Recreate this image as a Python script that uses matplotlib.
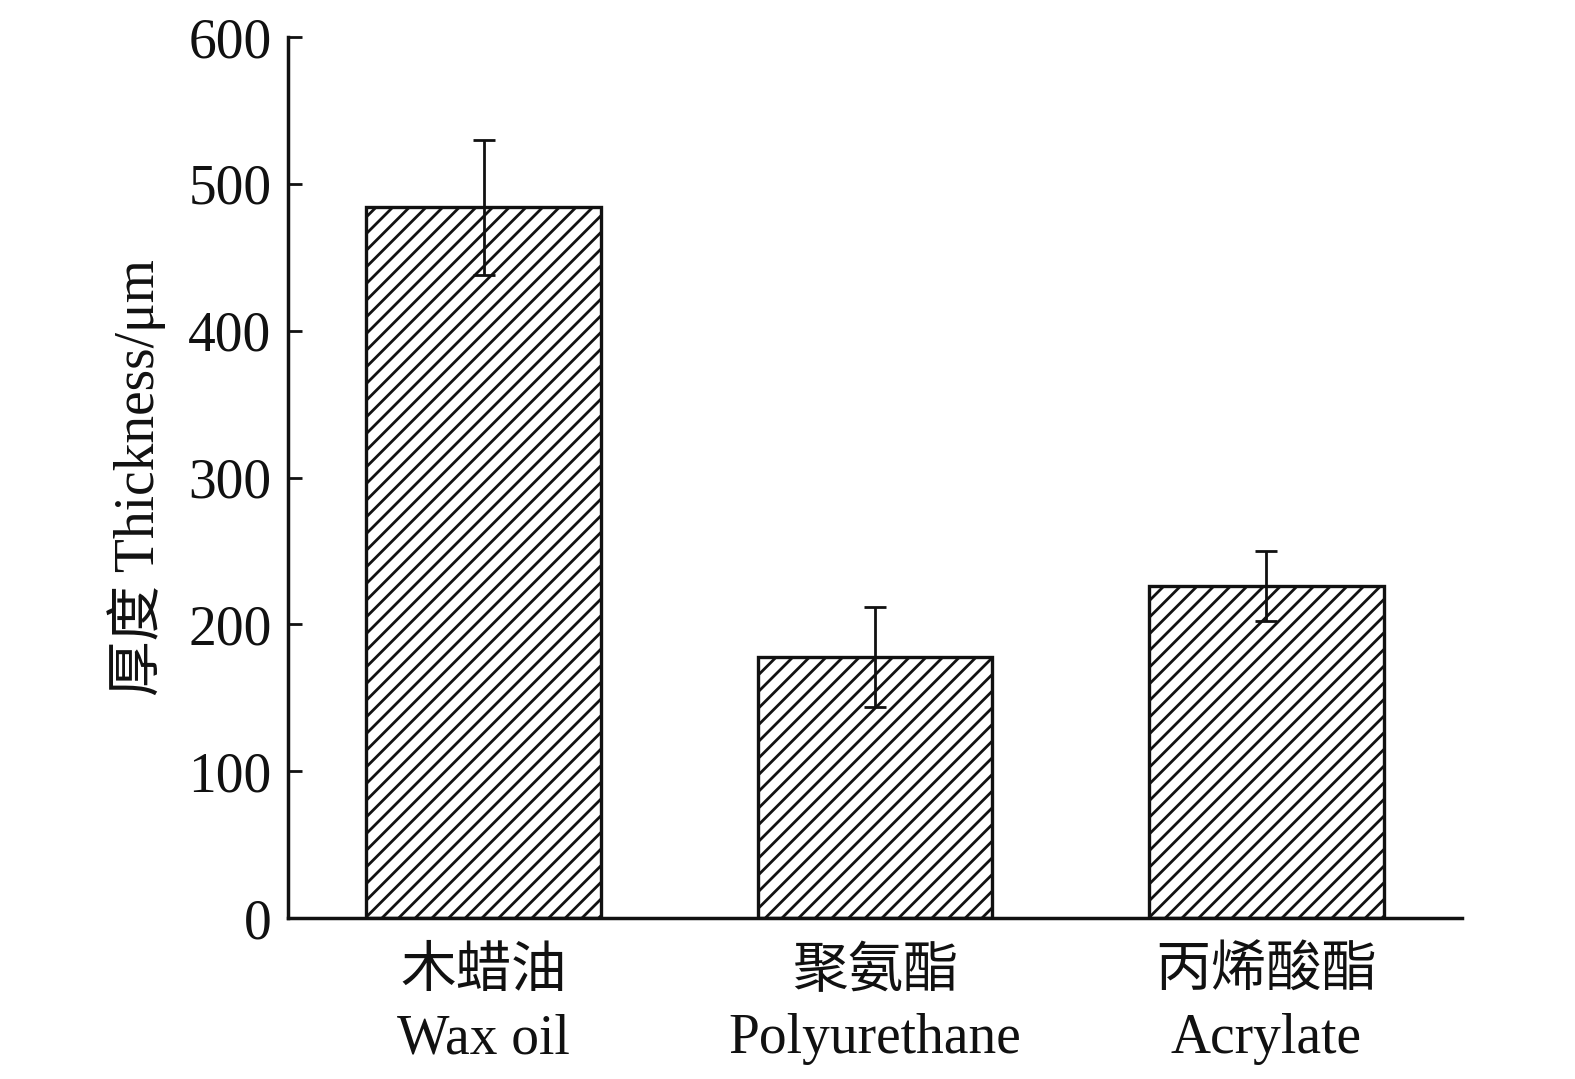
import numpy as np
import matplotlib.pyplot as plt

categories_cn = ["木蜡油", "聚氨酯", "丙烯酸酯"]
categories_en = ["Wax oil", "Polyurethane", "Acrylate"]
thickness = [484, 178, 226]
thickness_err = [46, 34, 24]
y_ticks = [0, 100, 200, 300, 400, 500, 600]

plt.rcParams['font.family'] = ['Liberation Serif', 'Noto Sans CJK SC']
plt.rcParams['hatch.linewidth'] = 2.0
plt.rcParams['hatch.color'] = '#111111'

fig = plt.figure(figsize=(15.75, 10.79), dpi=100, facecolor='white')
ax = fig.add_axes([0.1829, 0.1492, 0.7454, 0.8165])
ax.set_facecolor('white')

x = np.arange(len(thickness))
ax.bar(x, thickness, width=0.6, color='white', edgecolor='#111111',
       linewidth=2.4, hatch='//', zorder=2)
ax.errorbar(x, thickness, yerr=thickness_err, fmt='none', ecolor='#111111',
            elinewidth=2.0, capsize=8, capthick=2.0, zorder=3)

ax.set_xlim(-0.5, 2.5)
ax.set_ylim(0, 600)
ax.set_yticks(y_ticks)
ax.set_xticks(x)
ax.set_xticklabels([f"{c}\n{e}" for c, e in zip(categories_cn, categories_en)],
                   linespacing=1.35)
ax.tick_params(axis='both', direction='in', length=10, width=2.0,
               labelsize=40, colors='#111111', pad=12)
ax.tick_params(axis='x', pad=21)

for side in ['top', 'right']:
    ax.spines[side].set_visible(False)
for side in ['left', 'bottom']:
    ax.spines[side].set_linewidth(2.5)
    ax.spines[side].set_color('#111111')

ax.set_ylabel("厚度 Thickness/μm", fontsize=40, color='#111111', labelpad=16)

fig.savefig("out.png", dpi=100, facecolor='white')
